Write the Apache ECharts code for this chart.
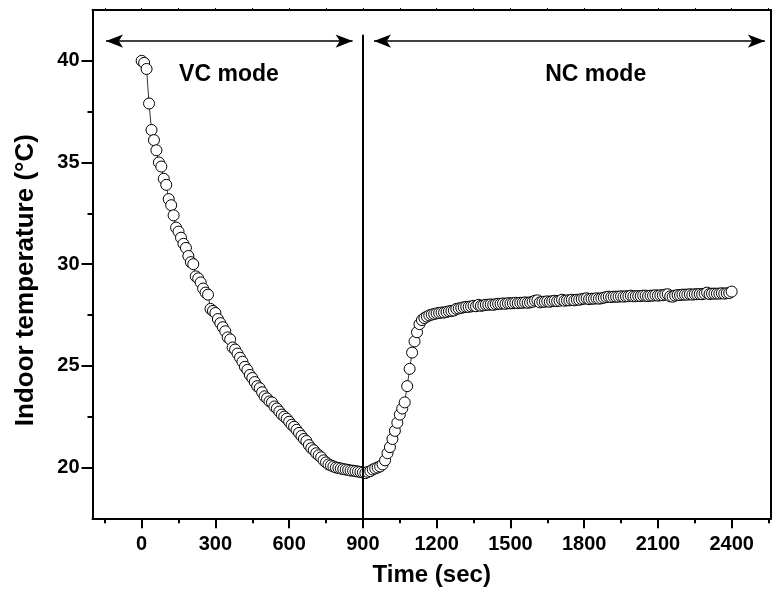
<!DOCTYPE html>
<html>
<head>
<meta charset="utf-8">
<script src="https://cdn.jsdelivr.net/npm/echarts@6/dist/echarts.min.js"></script>
<style>
html,body{margin:0;padding:0;background:#fff;}
#chart{width:772px;height:599px;}
</style>
</head>
<body>
<div id="chart"></div>
<script>
// Sampling: one reading every 10 s
const startTime = 0;
const timeStep = 10;

// VC mode, t = 0 ... 900 s
const vcTemps = [
  40.0, 39.9, 39.6, 37.9, 36.6, 36.1, 35.6, 35.0, 34.8, 34.2,
  33.9, 33.2, 32.9, 32.4, 31.8, 31.6, 31.3, 31.0, 30.8, 30.4,
  30.1, 30.0, 29.4, 29.3, 29.1, 28.8, 28.6, 28.5, 27.8, 27.7,
  27.6, 27.3, 27.1, 26.9, 26.7, 26.4, 26.3, 25.9, 25.8, 25.6,
  25.4, 25.2, 24.95, 24.8, 24.55, 24.4, 24.2, 24.0, 23.9, 23.7,
  23.5, 23.4, 23.25, 23.2, 23.0, 22.9, 22.75, 22.6, 22.5, 22.4,
  22.25, 22.1, 22.0, 21.85, 21.7, 21.55, 21.4, 21.3, 21.1, 20.95,
  20.85, 20.7, 20.6, 20.5, 20.35, 20.25, 20.15, 20.1, 20.05, 20.0,
  19.98, 19.95, 19.92, 19.9, 19.88, 19.85, 19.84, 19.82, 19.8, 19.78,
  19.75
];

// NC mode, t = 910 ... 2400 s
const ncTemps = [
  19.72, 19.78, 19.82, 19.9, 19.95, 20.0, 20.05, 20.15, 20.35, 20.7,
  21.0, 21.4, 21.8, 22.2, 22.6, 22.9, 23.2, 24.0, 24.85, 25.65,
  26.2, 26.65, 27.05, 27.25, 27.35, 27.42, 27.48, 27.52, 27.55, 27.58,
  27.6, 27.62, 27.62, 27.65, 27.68, 27.7, 27.72, 27.8, 27.82, 27.85,
  27.88, 27.9, 27.9, 27.92, 27.95, 27.93, 28.0, 27.95, 27.97, 28.0,
  28.0, 28.02, 28.0, 28.03, 28.05, 28.05, 28.07, 28.05, 28.08, 28.07,
  28.08, 28.1, 28.08, 28.1, 28.1, 28.12, 28.1, 28.12, 28.15, 28.2,
  28.22, 28.12, 28.15, 28.15, 28.17, 28.15, 28.18, 28.2, 28.18, 28.2,
  28.25, 28.2, 28.22, 28.22, 28.25, 28.22, 28.25, 28.25, 28.28, 28.3,
  28.32, 28.28, 28.3, 28.3, 28.32, 28.3, 28.32, 28.35, 28.38, 28.4,
  28.38, 28.4, 28.4, 28.4, 28.42, 28.4, 28.42, 28.42, 28.45, 28.42,
  28.42, 28.43, 28.43, 28.45, 28.45, 28.43, 28.45, 28.45, 28.47, 28.45,
  28.47, 28.47, 28.5, 28.52, 28.42, 28.4, 28.45, 28.48, 28.48, 28.5,
  28.5, 28.5, 28.52, 28.5, 28.52, 28.52, 28.53, 28.52, 28.55, 28.6,
  28.53, 28.55, 28.55, 28.55, 28.55, 28.57, 28.55, 28.57, 28.58, 28.65
];

// Axis ticks
const xMajorTicks = [0, 300, 600, 900, 1200, 1500, 1800, 2100, 2400];
const xMinorTicks = [-150, 150, 450, 750, 1050, 1350, 1650, 1950, 2250, 2550];
const yMajorTicks = [20, 25, 30, 35, 40];
const yMinorTicks = [22.5, 27.5, 32.5, 37.5];

// Annotations
const modeSwitchTime = 900;
const modeLabels = [
  {text: 'VC mode', t: 355, T: 39.31},
  {text: 'NC mode', t: 1847, T: 39.31}
];
const modeArrows = [
  {from: -145, to: 858, T: 40.97},
  {from: 945, to: 2535, T: 40.97}
];

const allTemps = vcTemps.concat(ncTemps);
const seriesData = allTemps.map((v, i) => [startTime + i * timeStep, v]);

const FONT = "'Liberation Sans', Arial, sans-serif";
const X_MIN = -200, X_MAX = 2560, Y_MIN = 17.5, Y_MAX = 42.5;

const chart = echarts.init(document.getElementById('chart'), null, {renderer: 'canvas'});

const axisLineStyle = {color: '#000', width: 2};
const labelStyle = {color: '#000', fontFamily: FONT, fontWeight: 'bold', fontSize: 20, formatter: v => String(v)};

const markLineData = modeArrows.map(a => [
  {coord: [a.from, a.T], symbol: 'arrow'},
  {coord: [a.to, a.T], symbol: 'arrow'}
]);
markLineData.push([
  {coord: [modeSwitchTime, 41.28], symbol: 'none', lineStyle: {width: 2}},
  {coord: [modeSwitchTime, Y_MIN], symbol: 'none'}
]);

const option = {
  animation: false,
  backgroundColor: '#fff',
  grid: {left: 92.5, right: 1, top: 10, bottom: 80.7, containLabel: false},
  xAxis: [
    {
      type: 'value', min: X_MIN, max: X_MAX, position: 'bottom',
      axisLine: {show: true, onZero: false, lineStyle: axisLineStyle},
      axisTick: {show: true, customValues: xMajorTicks, length: 10, lineStyle: {color: '#000', width: 2}},
      axisLabel: Object.assign({customValues: xMajorTicks, margin: 16}, labelStyle),
      splitLine: {show: false},
      name: 'Time (sec)', nameLocation: 'middle', nameGap: 45,
      nameTextStyle: {color: '#000', fontFamily: FONT, fontWeight: 'bold', fontSize: 24}
    },
    {
      type: 'value', min: X_MIN, max: X_MAX, position: 'bottom',
      axisLine: {show: false, onZero: false},
      axisTick: {show: true, customValues: xMinorTicks, length: 5, lineStyle: {color: '#000', width: 2}},
      axisLabel: {show: false},
      splitLine: {show: false}
    },
    {
      type: 'value', min: X_MIN, max: X_MAX, position: 'top',
      axisLine: {show: true, onZero: false, lineStyle: axisLineStyle},
      axisTick: {show: true, customValues: xMajorTicks.concat(xMinorTicks), length: 2, lineStyle: {color: '#000', width: 1}},
      axisLabel: {show: false},
      splitLine: {show: false}
    }
  ],
  yAxis: [
    {
      type: 'value', min: Y_MIN, max: Y_MAX, position: 'left',
      axisLine: {show: true, onZero: false, lineStyle: axisLineStyle},
      axisTick: {show: true, customValues: yMajorTicks, length: 11, lineStyle: {color: '#000', width: 2}},
      axisLabel: Object.assign({customValues: yMajorTicks, margin: 13}, labelStyle),
      splitLine: {show: false},
      name: 'Indoor temperature (°C)', nameLocation: 'middle', nameGap: 54, nameRotate: 90,
      nameTextStyle: {color: '#000', fontFamily: FONT, fontWeight: 'bold', fontSize: 26, padding: [0, 32, 0, 0]}
    },
    {
      type: 'value', min: Y_MIN, max: Y_MAX, position: 'left',
      axisLine: {show: false, onZero: false},
      axisTick: {show: true, customValues: yMinorTicks, length: 5, lineStyle: {color: '#000', width: 2}},
      axisLabel: {show: false},
      splitLine: {show: false}
    },
    {
      type: 'value', min: Y_MIN, max: Y_MAX, position: 'right',
      axisLine: {show: true, onZero: false, lineStyle: axisLineStyle},
      axisTick: {show: false},
      axisLabel: {show: false},
      splitLine: {show: false}
    }
  ],
  series: [
    {
      type: 'line',
      xAxisIndex: 0, yAxisIndex: 0,
      data: seriesData,
      showSymbol: true,
      showAllSymbol: true,
      symbol: 'circle',
      symbolSize: 11,
      itemStyle: {color: '#fff', borderColor: '#000', borderWidth: 1},
      lineStyle: {color: '#000', width: 0.8},
      z: 3,
      markLine: {
        silent: true,
        symbolSize: [10, 17],
        lineStyle: {color: '#000', width: 1.5, type: 'solid'},
        label: {show: false},
        emphasis: {disabled: true},
        data: markLineData,
        z: 5
      },
      markPoint: {
        silent: true,
        symbol: 'circle',
        symbolSize: 0,
        itemStyle: {color: 'rgba(0,0,0,0)'},
        label: {show: true, position: 'inside', color: '#000', fontFamily: FONT, fontWeight: 'bold', fontSize: 23,
                 formatter: p => p.name},
        data: modeLabels.map(m => ({name: m.text, coord: [m.t, m.T]}))
      }
    }
  ]
};
chart.setOption(option);
</script>
</body>
</html>
